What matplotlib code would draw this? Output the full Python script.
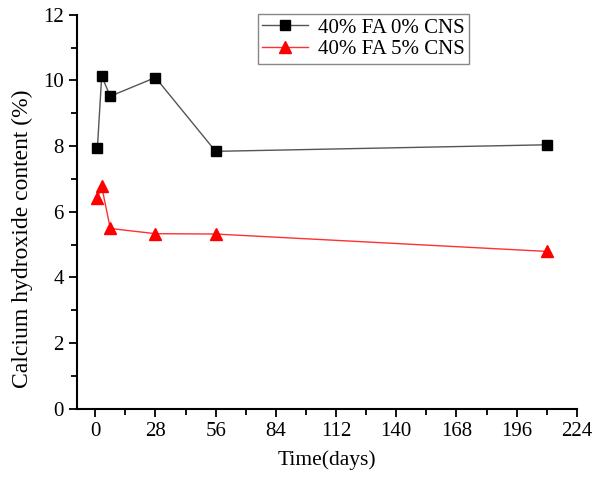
import matplotlib
matplotlib.use("Agg")
import matplotlib.pyplot as plt
from matplotlib.ticker import MultipleLocator

days = [1, 3, 7, 28, 56, 210]
ch_0cns = [7.94, 10.13, 9.52, 10.09, 7.84, 8.04]
ch_5cns = [6.43, 6.77, 5.49, 5.33, 5.32, 4.79]
labels = ["40% FA 0% CNS", "40% FA 5% CNS"]
x_ticks = [0, 28, 56, 84, 112, 140, 168, 196, 224]

plt.rcParams['font.family'] = ['Liberation Serif', 'DejaVu Serif']

fig = plt.figure(figsize=(6.06, 4.79), dpi=100)
ax = fig.add_axes([0.127, 0.147, 0.825, 0.822])

ax.plot(days, ch_0cns, color='#555555', lw=1.0, marker='s', ms=7,
        mfc='black', mec='black', label=labels[0])
ax.plot(days, ch_5cns, color='#ff3030', lw=1.0, marker='^', ms=9,
        mfc='red', mec='red', label=labels[1])

ax.set_xlim(-8.5, 224)
ax.set_ylim(0, 12)
ax.set_xticks(x_ticks)
ax.xaxis.set_minor_locator(MultipleLocator(14))
ax.yaxis.set_major_locator(MultipleLocator(2))
ax.yaxis.set_minor_locator(MultipleLocator(1))

for s in ['top', 'right']:
    ax.spines[s].set_visible(False)
for s in ['left', 'bottom']:
    ax.spines[s].set_linewidth(1.5)

ax.tick_params(which='major', direction='out', length=6, width=1.3, labelsize=15)
ax.tick_params(which='minor', direction='out', length=4, width=1.3)

ax.set_xlabel('Time(days)', fontsize=15.5, labelpad=7)
ax.set_ylabel('Calcium hydroxide content (%)', fontsize=17)
ax.yaxis.set_label_coords(-0.088, 0.431)

leg = ax.legend(loc='upper left', bbox_to_anchor=(258/606, 1 - 14/479),
                bbox_transform=fig.transFigure, fontsize=15, frameon=True,
                fancybox=False, edgecolor='#888888', framealpha=1,
                borderpad=0.2, handlelength=2.2, handletextpad=0.5,
                labelspacing=0.1, borderaxespad=0)
leg.get_frame().set_linewidth(1.0)

fig.savefig('out.png', dpi=100)
